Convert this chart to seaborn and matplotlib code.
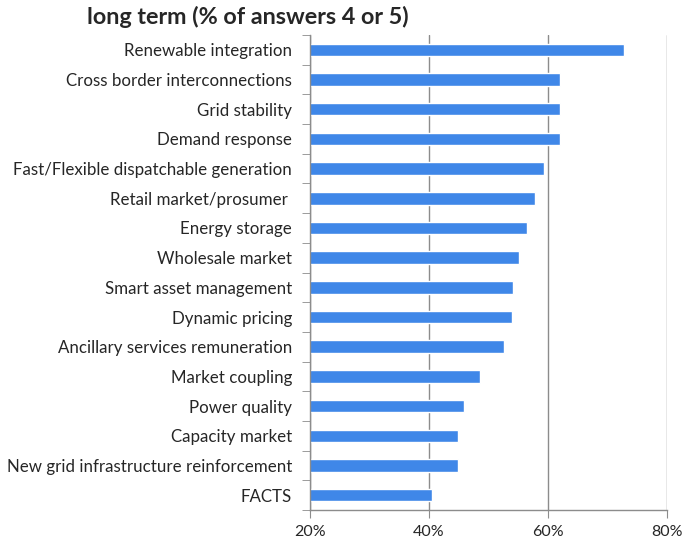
import matplotlib.pyplot as plt
import numpy as np
import seaborn as sns
from matplotlib.ticker import FixedLocator, PercentFormatter

categories = [
    "Renewable integration",
    "Cross border interconnections",
    "Grid stability",
    "Demand response",
    "Fast/Flexible dispatchable generation",
    "Retail market/prosumer ",
    "Energy storage",
    "Wholesale market",
    "Smart asset management",
    "Dynamic pricing",
    "Ancillary services remuneration",
    "Market coupling",
    "Power quality",
    "Capacity market",
    "New grid infrastructure reinforcement",
    "FACTS",
]
values = [72.8, 62.0, 62.0, 62.0, 59.4, 57.8, 56.5, 55.1,
          54.2, 53.9, 52.6, 48.6, 45.9, 44.8, 44.8, 40.5]
x_ticks = [20, 40, 60, 80]

sns.set_style("white")
plt.rcParams["font.family"] = ["Lato", "DejaVu Sans"]

fig = plt.figure(figsize=(6.85, 5.41), dpi=100)
ax = fig.add_axes([0.4526, 0.0573, 0.5211, 0.878])

sns.barplot(x=values, y=categories, color="#3F87E8", width=0.42, ax=ax,
            orient="h", saturation=1)

ax.set_xlim(20, 80)
ax.set_xticks(x_ticks)
ax.xaxis.set_major_formatter(PercentFormatter(decimals=0))
ax.xaxis.grid(True, color="#8c8c8c", linewidth=1)
ax.set_axisbelow(True)
ax.set_ylim(len(categories) - 0.5, -0.5)

for side in ["top", "right"]:
    ax.spines[side].set_visible(False)
for side in ["left", "bottom"]:
    ax.spines[side].set_color("#8c8c8c")
    ax.spines[side].set_linewidth(1)

ax.yaxis.set_minor_locator(FixedLocator(np.arange(-0.5, len(categories), 1)))
ax.tick_params(axis="y", which="major", length=0, pad=13, labelsize=12.2)
ax.tick_params(axis="y", which="minor", length=6, color="#8c8c8c", left=True)
ax.tick_params(axis="x", which="major", length=6, color="#8c8c8c", bottom=True,
               labelsize=11.5, pad=5)
ax.set_xlabel("")
ax.set_ylabel("")

fig.text(0.362, 0.968, "long term (% of answers 4 or 5)", fontsize=16.8,
         fontweight="bold", ha="center", va="center")

fig.savefig("out.png", dpi=100)
